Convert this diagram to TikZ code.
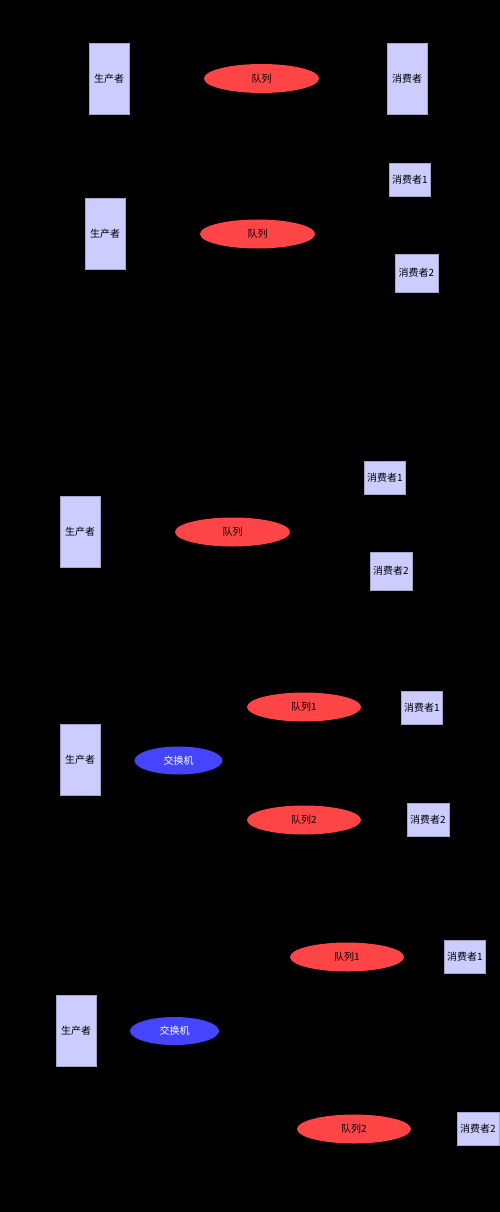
\documentclass[tikz,border=0pt]{standalone}
\usepackage{fontspec}
\newfontfamily\cjk{Noto Sans CJK SC}
\definecolor{boxfill}{HTML}{CCCCFF}
\definecolor{queuered}{HTML}{FF4545}
\definecolor{exblue}{HTML}{4545FF}
\tikzset{
  actor/.style={rectangle,fill=boxfill,draw=boxfill!80!black,line width=.4pt,inner sep=0pt},
  prod/.style={actor,minimum width=40,minimum height=71},
  cons/.style={actor,minimum width=41,minimum height=33},
  queue/.style={ellipse,fill=queuered,inner sep=0pt,minimum width=115,minimum height=29},
  exch/.style={ellipse,fill=exblue,text=white,inner sep=0pt,minimum width=88,minimum height=28}
}
\usetikzlibrary{shapes.geometric}
\begin{document}
\begin{tikzpicture}[x=1pt,y=-1pt,every node/.style={font=\cjk\fontsize{10}{12}\selectfont}]
  \fill[black] (0,0) rectangle (500,1212);
  \path[use as bounding box] (0,0) rectangle (500,1212);
  % simple queue
  \node[prod] (p1) at (109,78.5) {生产者};
  \node[queue] (q1) at (261.5,78.5) {队列};
  \node[prod] (c1) at (407,78.5) {消费者};
  % work queue
  \node[prod] (p2) at (105,234) {生产者};
  \node[queue] (q2) at (257.5,234) {队列};
  \node[cons] (c2a) at (410,180) {消费者1};
  \node[cons,minimum width=43,minimum height=38] (c2b) at (416.5,273) {消费者2};
  % work queue, second form
  \node[prod] (p3) at (80,532) {生产者};
  \node[queue] (q3) at (232.5,532) {队列};
  \node[cons] (c3a) at (385,478) {消费者1};
  \node[cons,minimum width=42,minimum height=38] (c3b) at (391,571) {消费者2};
  % exchange
  \node[prod] (p4) at (80,760) {生产者};
  \node[exch] (x4) at (178.5,760.5) {交换机};
  \node[queue,minimum width=114] (q4a) at (304,707) {队列1};
  \node[queue,minimum width=114] (q4b) at (304,820) {队列2};
  \node[cons] (c4a) at (422,707.5) {消费者1};
  \node[cons,minimum width=42] (c4b) at (428,820) {消费者2};
  % exchange, second form
  \node[prod] (p5) at (76,1031) {生产者};
  \node[exch,minimum width=89] (x5) at (174.5,1031) {交换机};
  \node[queue,minimum width=114] (q5a) at (347,957) {队列1};
  \node[queue,minimum width=114] (q5b) at (354,1129) {队列2};
  \node[cons] (c5a) at (465,957) {消费者1};
  \node[cons,minimum width=42] (c5b) at (478,1129) {消费者2};
\end{tikzpicture}
\end{document}
